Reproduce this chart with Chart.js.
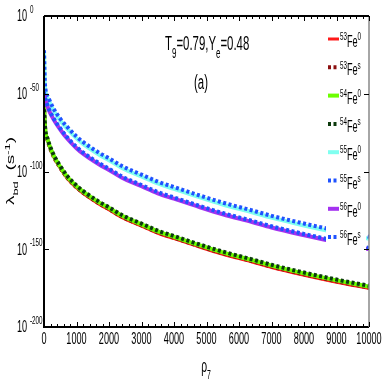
<!DOCTYPE html>
<html>
<head>
<meta charset="utf-8">
<script src="https://cdn.jsdelivr.net/npm/chart.js@4"></script>
<style>
  html, body { margin: 0; padding: 0; background: #fff; }
  #wrap { width: 382px; height: 382px; }
</style>
</head>
<body>
<div id="wrap"><canvas id="chart" width="382" height="382"></canvas></div>
<script>
// density rho_7 and log10 of the rates
const rho = [0, 30, 120, 280, 500, 700, 1000, 1200, 1700, 2000, 2400, 3000, 3500, 4000, 4800, 5500, 6400, 7000, 7900, 9000, 10000];
const fe53g = [-58.5, -72.5, -81.5, -90.5, -98.5, -104.5, -111, -114.5, -121.5, -125, -130, -135.5, -140, -143.5, -149, -153.5, -158.5, -162, -166.5, -171.5, -175.5];
const fe53s = [-57.6, -71.6, -80.6, -89.6, -97.6, -103.6, -110.1, -113.6, -120.6, -124.1, -129.1, -134.6, -139.1, -142.6, -148.1, -152.6, -157.6, -161.1, -165.6, -170.6, -174.6];
const fe54g = [-57, -71, -80, -89, -97, -103, -109.5, -113, -120, -123.5, -128.5, -134, -138.5, -142, -147.5, -152, -157, -160.5, -165, -170, -174];
const fe54s = [-56.5, -70.5, -79.5, -88.5, -96.5, -102.5, -109, -112.5, -119.5, -123, -128, -133.5, -138, -141.5, -147, -151.5, -156.5, -160, -164.5, -169.5, -173.5];
const fe55g = [-23.2, -45.2, -53.2, -60.2, -67.2, -72.2, -78.7, -82.2, -89.2, -92.7, -97.7, -103.2, -107.7, -111.2, -116.7, -121.2, -126.2, -129.7, -134.2, -139.2, -143.2];
const fe55s = [-22, -44, -52, -59, -66, -71, -77.5, -81, -88, -91.5, -96.5, -102, -106.5, -110, -115.5, -120, -125, -128.5, -133, -138, -142];
const fe56g = [-50, -53, -59, -66, -73, -78.5, -85, -88.5, -95.5, -99, -104, -109.5, -114, -117.5, -123, -127.5, -132.5, -136, -140.5, -145.5, -150];
const fe56s = [-49.2, -52.2, -58.2, -65.2, -72.2, -77.7, -84.2, -87.7, -94.7, -98.2, -103.2, -108.7, -113.2, -116.7, -122.2, -126.7, -131.7, -135.2, -139.7, -144.7, -149.2];

const xTicks = [0, 1000, 2000, 3000, 4000, 5000, 6000, 7000, 8000, 9000, 10000];
const yTicks = [0, -50, -100, -150, -200];
const yTickExp = ['0', '-50', '-100', '-150', '-200'];

const isotopes = ['53', '53', '54', '54', '55', '55', '56', '56'];
const states = ['0', 's', '0', 's', '0', 's', '0', 's'];

const allValues = [fe53g, fe53s, fe54g, fe54s, fe55g, fe55s, fe56g, fe56s];
const colors = ['#ff1a1a', '#8b0f0f', '#6cff00', '#0d3a0d', '#80fff0', '#1f52ff', '#a432f0', '#1f52ff'];
const dotted = [false, true, false, true, false, true, false, true];
const widths = [2, 4, 4, 4, 4, 4, 4, 4];

const SX = 0.57; // the figure is squeezed sideways
const FONT = '"Liberation Sans", Arial, sans-serif';

// draw a run of text pieces, pieces may be sup or sub
function richText(ctx, parts, x, y, size, align) {
    const small = Math.round(size * 0.68);
    let total = 0;
    parts.forEach(p => {
        ctx.font = (p.s ? small : size) + 'px ' + FONT;
        p.w = ctx.measureText(p.t).width * SX;
        total += p.w;
    });
    let cx = x;
    if (align === 'center') cx = x - total / 2;
    if (align === 'right') cx = x - total;
    parts.forEach(p => {
        ctx.font = (p.s ? small : size) + 'px ' + FONT;
        let dy = 0;
        if (p.s === 'sup') dy = -size * 0.42;
        if (p.s === 'sub') dy = size * 0.38;
        ctx.save();
        ctx.translate(cx, y + dy);
        ctx.scale(SX, 1);
        ctx.fillText(p.t, 0, 0);
        ctx.restore();
        cx += p.w;
    });
}

const decor = {
    id: 'decor',
    afterDatasetsDraw(chart) {
        const ctx = chart.ctx;
        const xs = chart.scales.x, ys = chart.scales.y;
        const a = chart.chartArea;

        // legend box (white, covers the lines)
        ctx.save();
        ctx.fillStyle = '#fff';
        ctx.fillRect(326, 21, 40, 234);
        for (let i = 0; i < isotopes.length; i++) {
            const ly = 39 + i * 28.3;
            ctx.strokeStyle = colors[i];
            ctx.lineWidth = widths[i] === 2 ? 3 : 4;
            ctx.setLineDash(dotted[i] ? [3, 2.5] : []);
            ctx.beginPath();
            ctx.moveTo(328, ly);
            ctx.lineTo(339, ly);
            ctx.stroke();
            ctx.setLineDash([]);
            ctx.fillStyle = '#000';
            ctx.textBaseline = 'alphabetic';
            richText(ctx, [{t: isotopes[i], s: 'sup'}, {t: 'Fe'}, {t: states[i], s: 'sup'}], 340, ly + 8, 16, 'left');
        }
        ctx.restore();

        // axes box
        ctx.save();
        ctx.lineWidth = 2;
        ctx.strokeStyle = '#000';
        ctx.beginPath();
        ctx.moveTo(a.left, a.top);
        ctx.lineTo(a.left, a.bottom);
        ctx.lineTo(a.right, a.bottom);
        ctx.moveTo(a.left, a.top);
        ctx.lineTo(a.right, a.top);
        ctx.stroke();
        ctx.strokeStyle = '#888';
        ctx.lineWidth = 1.5;
        ctx.beginPath();
        ctx.moveTo(a.right, a.top);
        ctx.lineTo(a.right, a.bottom);
        ctx.stroke();

        // x ticks, major and minor, top and bottom
        ctx.strokeStyle = '#000';
        ctx.lineWidth = 1;
        ctx.beginPath();
        for (let i = 0; i < xTicks.length; i++) {
            const px = Math.round(xs.getPixelForValue(xTicks[i])) + 0.5;
            ctx.moveTo(px, a.bottom); ctx.lineTo(px, a.bottom - 5);
            ctx.moveTo(px, a.top); ctx.lineTo(px, a.top + 5);
            if (i < xTicks.length - 1) {
                const step = (xTicks[i + 1] - xTicks[i]) / 5;
                for (let k = 1; k < 5; k++) {
                    const mx = Math.round(xs.getPixelForValue(xTicks[i] + k * step)) + 0.5;
                    ctx.moveTo(mx, a.bottom); ctx.lineTo(mx, a.bottom - 3);
                    ctx.moveTo(mx, a.top); ctx.lineTo(mx, a.top + 3);
                }
            }
        }
        ctx.stroke();
        ctx.beginPath();
        yTicks.forEach(v => {
            const py = Math.round(ys.getPixelForValue(v)) + 0.5;
            ctx.moveTo(a.left, py); ctx.lineTo(a.left + 5, py);
            ctx.moveTo(a.right, py); ctx.lineTo(a.right - 5, py);
        });
        ctx.stroke();

        // tick labels
        ctx.fillStyle = '#000';
        ctx.textBaseline = 'middle';
        xTicks.forEach(v => {
            richText(ctx, [{t: String(v)}], xs.getPixelForValue(v), 340, 16, 'center');
        });
        yTicks.forEach((v, i) => {
            const py = ys.getPixelForValue(v);
            richText(ctx, [{t: '10'}], 17, py + 1, 16, 'left');
            ctx.font = '11px ' + FONT;
            ctx.save();
            ctx.translate(30, py - 6);
            ctx.scale(SX, 1);
            ctx.fillText(yTickExp[i], 0, 0);
            ctx.restore();
        });

        // axis titles
        ctx.textBaseline = 'alphabetic';
        richText(ctx, [{t: 'ρ'}, {t: '7', s: 'sub'}], 206, 372, 18, 'center');

        ctx.save();
        ctx.translate(14, 171);
        ctx.rotate(-Math.PI / 2);
        ctx.scale(1 / SX, 0.55);
        richText(ctx, [{t: 'λ'}, {t: 'bd', s: 'sub'}, {t: '  (s'}, {t: '-1', s: 'sup'}, {t: ')'}], 0, 0, 19, 'center');
        ctx.restore();

        // annotation
        richText(ctx, [{t: 'T'}, {t: '9', s: 'sub'}, {t: '=0.79,Y'}, {t: 'e', s: 'sub'}, {t: '=0.48'}], 165, 50, 20, 'left');
        richText(ctx, [{t: '(a)'}], 201, 89, 20, 'center');
        ctx.restore();
    }
};

const datasets = allValues.map((vals, i) => ({
    label: isotopes[i] + 'Fe' + states[i],
    data: rho.map((r, j) => ({x: r, y: vals[j]})),
    borderColor: colors[i],
    backgroundColor: colors[i],
    borderWidth: widths[i],
    borderDash: dotted[i] ? [3, 2.5] : [],
    borderCapStyle: 'butt',
    pointRadius: 0,
    cubicInterpolationMode: 'monotone',
    fill: false,
    order: allValues.length - i
}));

new Chart(document.getElementById('chart'), {
    type: 'line',
    data: { datasets: datasets },
    options: {
        responsive: false,
        animation: false,
        layout: { padding: { left: 44, right: 13, top: 16, bottom: 55 } },
        plugins: { legend: { display: false }, tooltip: { enabled: false } },
        scales: {
            x: { type: 'linear', min: 0, max: 10000, display: false },
            y: { type: 'linear', min: -200, max: 0, display: false }
        }
    },
    plugins: [decor]
});
</script>
</body>
</html>
